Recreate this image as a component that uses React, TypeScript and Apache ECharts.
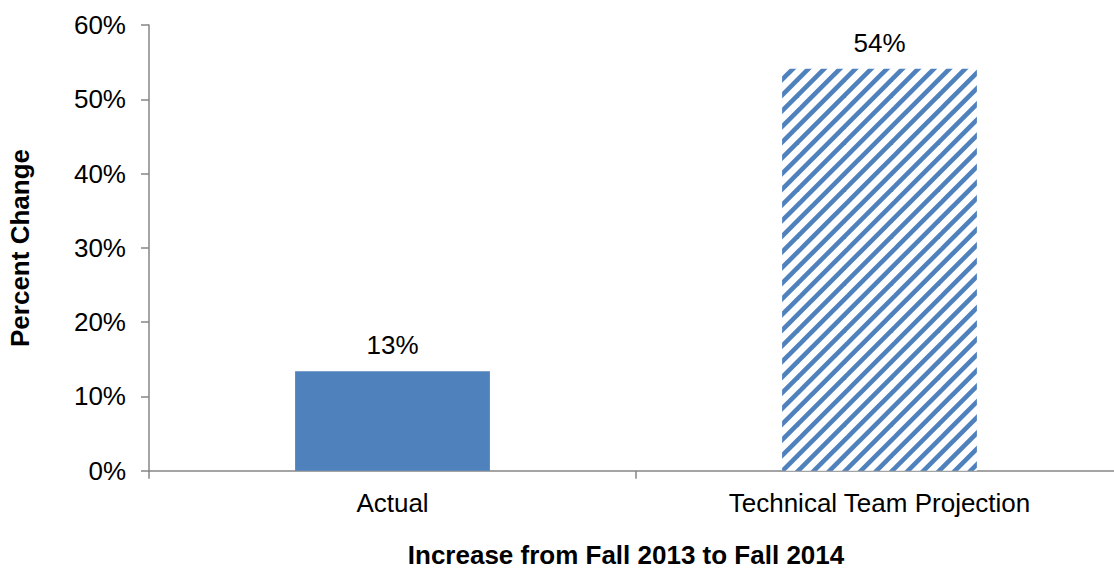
import React, { useEffect, useRef } from "react";
import * as echarts from "echarts";

const categories = ["Actual", "Technical Team Projection"];
const values = [13.4, 54.1];
const labels = ["13%", "54%"];
const yTicks = [0, 10, 20, 30, 40, 50, 60];
const yTitle = "Percent Change";
const xTitle = "Increase from Fall 2013 to Fall 2014";

const BLUE = "#4F81BD";
const AXIS = "#868686";
const FONT = "'Liberation Sans', Arial, sans-serif";

function makeStripeTile(): HTMLCanvasElement {
  const size = 47;
  const period = size / 3;
  const c = document.createElement("canvas");
  c.width = size;
  c.height = size;
  const ctx = c.getContext("2d")!;
  ctx.fillStyle = "#ffffff";
  ctx.fillRect(0, 0, size, size);
  ctx.strokeStyle = BLUE;
  ctx.lineWidth = 4.6;
  for (let k = -3; k <= 6; k++) {
    const s = k * period;
    ctx.beginPath();
    ctx.moveTo(s - size, size * 2);
    ctx.lineTo(s + size * 2, -size);
    ctx.stroke();
  }
  return c;
}

export default function App() {
  const ref = useRef<HTMLDivElement>(null);
  useEffect(() => {
    const chart = echarts.init(ref.current!, null, { renderer: "svg" });
    const tile = makeStripeTile();
    const stripe = {
      image: tile,
      repeat: "repeat",
      imageWidth: tile.width,
      imageHeight: tile.height,
    };
    chart.setOption({
      animation: false,
      backgroundColor: "#ffffff",
      textStyle: { fontFamily: FONT },
      grid: {
        left: 149,
        top: 25,
        width: 974,
        height: 445.7,
        containLabel: false,
        outerBoundsMode: "none",
      },
      xAxis: {
        type: "category",
        data: categories,
        axisLine: { lineStyle: { color: AXIS, width: 1.5 } },
        axisTick: { show: true, length: 8, lineStyle: { color: AXIS, width: 1.5 } },
        axisLabel: { color: "#000", fontSize: 26, fontFamily: FONT, margin: 19 },
        splitLine: { show: false },
      },
      yAxis: {
        type: "value",
        min: yTicks[0],
        max: yTicks[yTicks.length - 1],
        interval: 10,
        axisLine: { show: true, lineStyle: { color: AXIS, width: 1.5 } },
        axisTick: { show: true, length: 8, lineStyle: { color: AXIS, width: 1.5 } },
        axisLabel: { color: "#000", fontSize: 26, fontFamily: FONT, margin: 23, formatter: (v: number) => v + "%" },
        splitLine: { show: false },
      },
      graphic: [
        {
          type: "text",
          rotation: Math.PI / 2,
          x: 20,
          y: 248,
          style: {
            text: yTitle,
            fill: "#000",
            font: `bold 26px ${FONT}`,
            textAlign: "center",
            textVerticalAlign: "middle",
          },
        },
        {
          type: "text",
          x: 626,
          y: 555,
          style: {
            text: xTitle,
            fill: "#000",
            font: `bold 26px ${FONT}`,
            textAlign: "center",
            textVerticalAlign: "middle",
          },
        },
      ],
      series: [
        {
          type: "bar",
          barWidth: "40%",
          data: values.map((v, i) =>
            i === 1 ? { value: v, itemStyle: { color: stripe } } : { value: v, itemStyle: { color: BLUE } }
          ),
          label: {
            show: true,
            position: "top",
            distance: 13,
            color: "#000",
            fontSize: 26,
            fontFamily: FONT,
            formatter: (p: any) => labels[p.dataIndex],
          },
        },
      ],
    });
    return () => chart.dispose();
  }, []);
  return <div ref={ref} style={{ position: "fixed", left: 0, top: 0, width: 1114, height: 569 }} />;
}
